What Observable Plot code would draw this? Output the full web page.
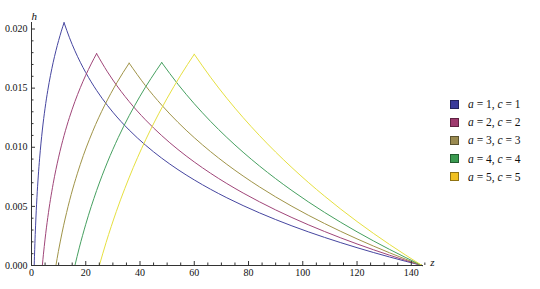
<!DOCTYPE html>
<html><head><meta charset="utf-8">
<script src="https://cdn.jsdelivr.net/npm/d3@7"></script>
<script src="https://cdn.jsdelivr.net/npm/@observablehq/plot@0.6"></script>
<style>
body{margin:0;background:#fff;}
#wrap{position:relative;width:540px;height:289px;}
#legend{position:absolute;left:450px;top:95px;font-family:"Liberation Serif","Times New Roman",serif;font-size:11.5px;color:#111;}
.row{display:flex;align-items:center;height:18.2px;white-space:nowrap;}
.sw{width:7px;height:7px;border:1px solid rgba(0,0,0,.4);margin-right:9px;}
</style></head><body><div id="wrap"><div id="legend"></div></div>
<script>
const seriesNames = ["a = 1, c = 1", "a = 2, c = 2", "a = 3, c = 3", "a = 4, c = 4", "a = 5, c = 5"];
const lineColors = ["#4646a0", "#a04679", "#a09448", "#46a060", "#e6e040"];
const swatchColors = ["#3a3a9a", "#9e3a6e", "#9a8a50", "#3a9a50", "#f0c020"];

// series 1 (a=1, c=1)
const z1Up = [1, 1.1, 1.25, 1.5, 2, 2.5, 3, 4, 5, 6, 7, 8, 9, 10, 11, 12];
const h1Up = [0, 0.000788, 0.001844, 0.003351, 0.005728, 0.007573, 0.009079, 0.011457, 0.013301, 0.014808, 0.016082, 0.017185, 0.018159, 0.019030, 0.019817, 0.020536];
const z1Down = [12, 14, 16, 18, 20, 24, 28, 30, 36, 42, 48, 54, 60, 66, 72, 78, 84, 90, 96, 102, 108, 114, 120, 126, 132, 138, 144];
const h1Down = [0.020536, 0.019262, 0.018159, 0.017185, 0.016315, 0.014808, 0.013534, 0.012964, 0.011457, 0.010183, 0.009079, 0.008106, 0.007236, 0.006448, 0.005728, 0.005067, 0.004455, 0.003884, 0.003351, 0.002850, 0.002378, 0.001931, 0.001507, 0.001103, 0.000719, 0.000352, 0];

// series 2 (a=2, c=2)
const z2Up = [4, 4.4, 5, 6, 8, 10, 12, 14, 16, 18, 20, 22, 24];
const h2Up = [0, 0.000953, 0.002231, 0.004055, 0.006931, 0.009163, 0.010986, 0.012528, 0.013863, 0.015041, 0.016094, 0.017047, 0.017918];
const z2Down = [24, 28, 30, 36, 42, 48, 54, 60, 66, 72, 78, 84, 90, 96, 102, 108, 114, 120, 126, 132, 138, 144];
const h2Down = [0.017918, 0.016376, 0.015686, 0.013863, 0.012321, 0.010986, 0.009808, 0.008755, 0.007802, 0.006931, 0.006131, 0.005390, 0.004700, 0.004055, 0.003448, 0.002877, 0.002336, 0.001823, 0.001335, 0.000870, 0.000426, 0];

// series 3 (a=3, c=3)
const z3Up = [9, 9.9, 11.25, 13.5, 18, 22.5, 27, 31.5, 36];
const h3Up = [0, 0.001177, 0.002754, 0.005006, 0.008557, 0.011312, 0.013563, 0.015467, 0.017115];
const z3Down = [36, 42, 48, 54, 60, 66, 72, 78, 84, 90, 96, 102, 108, 114, 120, 126, 132, 138, 144];
const h3Down = [0.017115, 0.015211, 0.013563, 0.012109, 0.010809, 0.009632, 0.008557, 0.007569, 0.006654, 0.005802, 0.005006, 0.004257, 0.003552, 0.002884, 0.002251, 0.001648, 0.001074, 0.000526, 0];

// series 4 (a=4, c=4)
const z4Up = [16, 17.6, 20, 24, 28, 32, 40, 48];
const h4Up = [0, 0.001489, 0.003486, 0.006336, 0.008744, 0.010830, 0.014317, 0.017166];
const z4Down = [48, 54, 60, 66, 72, 78, 84, 90, 96, 102, 108, 114, 120, 126, 132, 138, 144];
const h4Down = [0.017166, 0.015325, 0.013680, 0.012191, 0.010830, 0.009580, 0.008422, 0.007344, 0.006336, 0.005388, 0.004495, 0.003650, 0.002848, 0.002086, 0.001359, 0.000666, 0];

// series 5 (a=5, c=5)
const z5Up = [25, 27.5, 31.25, 37.5, 43.75, 50, 55, 60];
const h5Up = [0, 0.001945, 0.004553, 0.008276, 0.011420, 0.014145, 0.016092, 0.017867];
const z5Down = [60, 66, 72, 78, 84, 90, 96, 102, 108, 114, 120, 126, 132, 138, 144];
const h5Down = [0.017867, 0.015922, 0.014145, 0.012512, 0.011000, 0.009592, 0.008276, 0.007037, 0.005871, 0.004767, 0.003720, 0.002724, 0.001776, 0.000869, 0];

const xTicks = [0, 20, 40, 60, 80, 100, 120, 140];
const xMinor = [5, 10, 15, 25, 30, 35, 45, 50, 55, 65, 70, 75, 85, 90, 95, 105, 110, 115, 125, 130, 135, 145];
const yTicks = [0, 0.005, 0.010, 0.015, 0.020];
const yMinor = [0.001, 0.002, 0.003, 0.004, 0.006, 0.007, 0.008, 0.009, 0.011, 0.012, 0.013, 0.014, 0.016, 0.017, 0.018, 0.019];

const parts = [
  [z1Up, h1Up, z1Down, h1Down],
  [z2Up, h2Up, z2Down, h2Down],
  [z3Up, h3Up, z3Down, h3Down],
  [z4Up, h4Up, z4Down, h4Down],
  [z5Up, h5Up, z5Down, h5Down]
];
const rows = [];
parts.forEach(([zu, hu, zd, hd], i) => {
  zu.forEach((z, j) => rows.push({series: seriesNames[i], key: i + "up", z, h: hu[j]}));
  zd.forEach((z, j) => rows.push({series: seriesNames[i], key: i + "down", z, h: hd[j]}));
});

const blank = () => "";
const chart = Plot.plot({
  width: 540, height: 289,
  marginLeft: 31, marginRight: 117, marginTop: 22, marginBottom: 24,
  x: {domain: [0, 144.5]},
  y: {domain: [0, 0.02055]},
  color: {domain: seriesNames, range: lineColors},
  style: {fontFamily: "'Liberation Serif', 'Times New Roman', serif", fontSize: "10px", color: "#111", background: "#fff"},
  marks: [
    Plot.line(rows, {x: "z", y: "h", z: "key", stroke: "series", strokeWidth: 1, curve: "monotone-x"}),
    Plot.ruleX([0], {stroke: "#333"}),
    Plot.ruleY([0], {stroke: "#333"}),
    Plot.axisX(xTicks, {tickSize: 0, tickPadding: 3, label: null}),
    Plot.axisX(xTicks, {tickSize: -4, tickFormat: blank, label: null, stroke: "#333"}),
    Plot.axisX(xMinor, {tickSize: -2.5, tickFormat: blank, label: null, stroke: "#333"}),
    Plot.axisY(yTicks, {tickSize: 0, tickPadding: 4, tickFormat: d3.format(".3f"), label: null}),
    Plot.axisY(yTicks, {tickSize: -4, tickFormat: blank, label: null, stroke: "#333"}),
    Plot.axisY(yMinor, {tickSize: -2.5, tickFormat: blank, label: null, stroke: "#333"}),
    Plot.text(["h"], {text: d => d, frameAnchor: "top-left", dy: -10, fontStyle: "italic", fontSize: 11}),
    Plot.text(["z"], {text: d => d, frameAnchor: "bottom-right", dx: 11, fontStyle: "italic", fontSize: 11})
  ]
});
const wrap = document.getElementById("wrap");
wrap.insertBefore(chart, wrap.firstChild);

const legend = document.getElementById("legend");
seriesNames.forEach((name, i) => {
  const row = document.createElement("div");
  row.className = "row";
  const sw = document.createElement("div");
  sw.className = "sw";
  sw.style.background = swatchColors[i];
  const t = document.createElement("span");
  t.innerHTML = name.replace(/a/, "<i>a</i>").replace(/c/, "<i>c</i>");
  row.appendChild(sw);
  row.appendChild(t);
  legend.appendChild(row);
});
</script></body></html>
